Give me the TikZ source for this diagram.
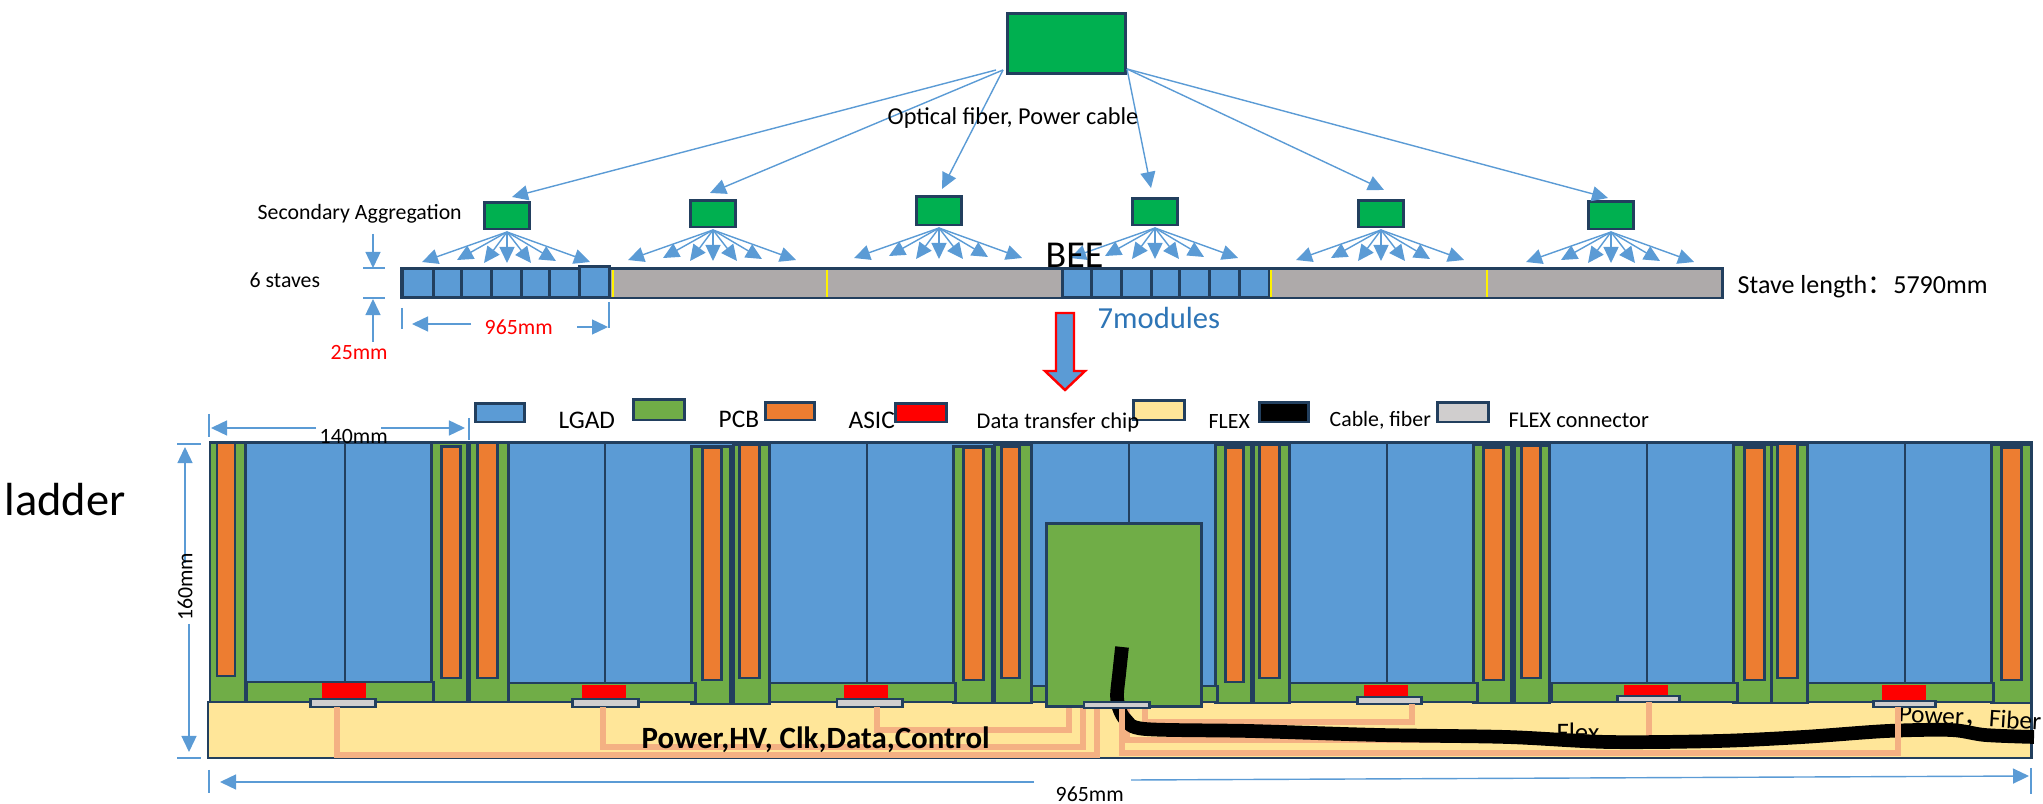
\documentclass[tikz,border=0pt]{standalone}
\usepackage{fontspec}
\setmainfont{Carlito}
\newfontfamily\cjk{Noto Sans CJK SC}
\usetikzlibrary{arrows.meta}
\pgfdeclarelayer{dessus}
\pgfsetlayers{main,dessus}
\definecolor{bleu}{HTML}{5B9BD5}
\definecolor{bleutexte}{HTML}{2E75B6}
\definecolor{marine}{HTML}{223F5E}
\definecolor{vert}{HTML}{00B050}
\definecolor{vertpcb}{HTML}{70AD47}
\definecolor{orangepcb}{HTML}{ED7D31}
\definecolor{jaune}{HTML}{FFE699}
\definecolor{gris}{HTML}{AEAAAA}
\definecolor{grisclair}{HTML}{D0CECE}
\definecolor{saumon}{HTML}{F4B183}
\tikzset{
  x=0.01cm,y=-0.01cm,
  boite/.style={draw=marine,line width=0.85pt,inner sep=0pt,outer sep=0pt},
  agreg/.style={boite,fill=vert},
  cellule/.style={draw=marine,line width=0.85pt,fill=bleu},
  lgad/.style={boite,fill=bleu},
  pcb/.style={boite,fill=vertpcb},
  puce/.style={boite,fill=orangepcb},
  asic/.style={boite,fill=red},
  flex/.style={boite,fill=jaune},
  cable/.style={boite,fill=black},
  prise/.style={boite,fill=grisclair},
  fibre/.style={-{Triangle[length=0.16cm,width=0.15cm]},color=bleu,line width=0.4pt},
  cote/.style={color=bleu,line width=0.5pt},
  piste/.style={color=saumon,line width=1.5pt},
  texte/.style={font=\fontsize{6.2}{7}\selectfont,inner sep=0pt},
}
\begin{document}
\begin{tikzpicture}
  \useasboundingbox (0,0) rectangle (2043,804);
  % upper part
  \node[agreg,minimum width=1.17cm,minimum height=0.6cm] (racine) at (1066.5,43.5) {};
  \foreach \i/\x/\y/\h in {1/507/216/0.26,2/713/214/0.26,3/939/211/0.28,4/1155/212/0.26,5/1381/214/0.26,6/1611/215.5/0.27}
    \node[agreg,minimum width=0.45cm,minimum height=\h cm] (sec\i) at (\x,\y) {};
  \coordinate (depart1) at (996,70);
  \coordinate (depart2) at (1003,70);
  \coordinate (depart3) at (1127,69);
  \foreach \i/\d/\dx/\dy in {1/1/0.05/0.06,2/2/-0.03/0.08,3/2/0.03/0.08,4/3/-0.04/0.11,5/3/0.03/0.11,6/3/-0.03/0.04}
    \draw[fibre] (depart\d) -- ([xshift=\dx cm,yshift=\dy cm]sec\i.north);
  \foreach \i in {1,...,6}
    \foreach \dx/\dy in {-85/30,-50/28,-23/31,0/31,24/31,49/29,83/30}
      \draw[fibre] ([yshift=-0.03cm]sec\i.south) -- ++(\dx,\dy);
  \node[texte,anchor=west,font=\fontsize{6.9}{8}\selectfont] (optique) at (887,118) {Optical fiber, Power cable};
  \node[texte,anchor=west] (secondaire) at (257,214) {Secondary Aggregation};
  \node[texte,anchor=west] (staves) at (249,280) {6 staves};
  \node[texte,anchor=west,text=red] (rouge25) at (330,353) {25mm};
  \node[texte,anchor=west,text=red] (rouge965) at (484,327) {965mm};
  \node[texte,anchor=west,font=\fontsize{7.4}{8}\selectfont] (longueur) at (1737,287) {Stave length{\cjk ：}5790mm};
  % stave
  \node[boite,fill=gris,minimum width=13.2cm,minimum height=0.29cm] (barre) at (1062,283.5) {};
  \foreach \a/\b in {402/433,433/461,461/491,491/521,521/549,549/579,1062/1091,1091/1121,1121/1151,1151/1179,1179/1209,1209/1239,1239/1269}
    \draw[cellule] (\a,269) rectangle (\b,298);
  \draw[cellule] (579,267) rectangle (609,298);
  \foreach \x in {613,827,1271,1487}
    \draw[yellow,line width=0.5pt] (\x,270) -- (\x,297);
  \node[texte,anchor=base west,font=\fontsize{10.8}{12}\selectfont] (bee) at (1045,268) {BEE};
  \node[texte,anchor=west,text=bleutexte,font=\fontsize{8.7}{10}\selectfont] (modules) at (1097,318) {7modules};
  \draw[red,fill=bleu,line width=0.7pt] (1056,313) -- (1074,313) -- (1074,371) -- (1085,371) -- (1065,390) -- (1045,371) -- (1056,371) -- cycle;
  % dimensions of the stave
  \coordinate (h1) at (363,268);
  \coordinate (h2) at (385,268);
  \coordinate (h3) at (363,298);
  \coordinate (h4) at (385,298);
  \coordinate (v1) at (373,234);
  \coordinate (v2) at (373,268);
  \coordinate (v3) at (373,342);
  \coordinate (v4) at (373,299);
  \coordinate (l1) at (402,308);
  \coordinate (l2) at (402,329);
  \coordinate (l3) at (609,302);
  \coordinate (l4) at (609,328);
  \coordinate (f1) at (471,324);
  \coordinate (f2) at (412,324);
  \coordinate (f3) at (577,327);
  \coordinate (f4) at (608,327);
  \foreach \a/\b in {h1/h2,h3/h4,l1/l2,l3/l4}
    \draw[cote] (\a) -- (\b);
  \foreach \a/\b in {v1/v2,v3/v4,f1/f2,f3/f4}
    \draw[fibre] (\a) -- (\b);
  % legend
  \foreach \n/\s/\x/\y/\w/\h in {l/lgad/500/413/0.49/0.18,p/pcb/659/410/0.51/0.2,o/puce/790/411.5/0.49/0.17,a/asic/921/413/0.51/0.18,f/flex/1159/410.5/0.51/0.19,c/cable/1284/412.5/0.49/0.19,g/prise/1463/412.5/0.51/0.19}
    \node[\s,minimum width=\w cm,minimum height=\h cm] (leg\n) at (\x,\y) {};
  \node[texte,anchor=west,font=\fontsize{7.2}{8}\selectfont] (tlgad) at (558,420) {LGAD};
  \node[texte,anchor=west,font=\fontsize{7.2}{8}\selectfont] (tpcb) at (718,419) {PCB};
  \node[texte,anchor=west,font=\fontsize{7.2}{8}\selectfont] (tasic) at (848,420) {ASIC};
  \node[texte,anchor=west,font=\fontsize{6.4}{7}\selectfont] (tdata) at (976,423) {Data transfer chip};
  \node[texte,anchor=west] (tflex) at (1208,422) {FLEX};
  \node[texte,anchor=west] (tcable) at (1329,420) {Cable, fiber};
  \node[texte,anchor=west,font=\fontsize{6.4}{7}\selectfont] (tprise) at (1508,420) {FLEX connector};
  \node[anchor=west,inner sep=0pt,font=\fontsize{13.2}{15}\selectfont] (ladder) at (4,500) {ladder};
  % ladder
  \draw[lgad] (210,443) rectangle (2031,702);
  \draw[flex] (208,702) rectangle (2031,758);
  \node[texte,anchor=center,font=\fontsize{7.6}{9}\selectfont] (tflexb) at (1578,732) {Flex};
  \node[texte,anchor=west,rotate=-3.5,font=\fontsize{7.2}{8}\selectfont] (tpower) at (1898,714) {Power{\cjk ，}Fiber};
  \foreach \x in {345,605,867,1129,1387,1647,1905}
    \draw[marine,line width=0.5pt] (\x,443) -- (\x,690);
  % pcb columns with their orange chips
  \foreach \a/\b/\t/\s/\c/\d/\e/\f in {
    210/245.5/443/702/217/235/443/676,
    431/467.5/443/702/441/460/447/678,
    469/508/443/702/477/497/443/678,
    691/730/447/704/702/721/448/680,
    733/769/445/704/739/759.5/445/678,
    953/992/447/703/963/983/448/680,
    994/1031/445/703/1001/1019/447/678,
    1215/1251/445/703/1225/1243/448/682,
    1253/1289/445/703/1259.5/1279.5/445/678,
    1473/1511/445/703/1483/1503/448/680,
    1514.5/1549/446/703/1521/1540/446/678,
    1733/1771/445/703/1744.5/1764/448/680,
    1771/1807/445/703/1777.5/1797/444/678,
    1991/2031/445/703/2001/2021.5/448/680}{
    \draw[pcb] (\a,\t) rectangle (\b,\s);
    \draw[puce] (\c,\e) rectangle (\d,\f);
  }
  % bottom strips and asics
  \foreach \a/\b/\t in {247/433/682,508/695/683,769/955/683,1031/1217/686,1289/1477/683,1551/1737/683,1807/1993/683}
    \draw[pcb] (\a,\t) rectangle (\b,702);
  \foreach \a/\b/\t/\s in {322/366/683/699,581.5/626/685/699,844/888/685/699,1364/1408/685/697,1624/1668/685/696,1882/1926/685/701}
    \fill[red] (\a,\t) rectangle (\b,\s);
  \node[pcb,minimum width=1.54cm,minimum height=1.82cm] (beepcb) at (1124,615) {};
  % connectors
  \foreach \n/\x/\y/\w/\h in {1/343/703/0.65/0.08,2/605.5/703/0.65/0.08,3/869.5/703/0.65/0.08,5/1389/700.5/0.64/0.07,6/1648/699/0.62/0.06,7/1904/704/0.62/0.06}
    \node[prise,minimum width=\w cm,minimum height=\h cm] (conn\n) at (\x,\y) {};
  \begin{pgfonlayer}{dessus}
    \node[prise,minimum width=0.65cm,minimum height=0.06cm] (connB) at (1116.5,705) {};
  \end{pgfonlayer}
  % traces
  \draw[piste] ([xshift=-0.06cm]conn1.south) -- ++(0,48) -| ([xshift=-0.195cm]connB.south);
  \draw[piste] ([xshift=-0.025cm]conn2.south) -- ++(0,40) -| ([xshift=-0.335cm]connB.south);
  \draw[piste] ([xshift=0.075cm]conn3.south) -- ++(0,23) -| ([xshift=-0.475cm]connB.south);
  \draw[piste] ([xshift=0.285cm]connB.south) -- ++(0,14) -| ([xshift=0.23cm]conn5.south);
  \draw[piste] ([xshift=0.105cm]connB.south) -- ++(0,32) -| ([xshift=0.01cm]conn6.south);
  % black cable
  \draw[black,line width=3.9pt,line join=round] plot[smooth,tension=0.5] coordinates {(1122,647) (1119,675) (1117,695) (1119,708) (1126,720) (1145,729) (1250,731) (1380,735) (1507,737) (1608,742) (1718,741) (1803,737) (1887,731) (1951,730) (1985,735) (2034,737)};
  \draw[piste] ([xshift=0.055cm]connB.south) -- ++(0,45) -| ([xshift=-0.06cm]conn7.south);
  \node[texte,anchor=west,font=\bfseries\fontsize{8.8}{10}\selectfont] (bus) at (641,740) {Power,HV, Clk,Data,Control};
  % dimensions of the ladder
  \coordinate (a1) at (209,414);
  \coordinate (a2) at (209,437);
  \coordinate (a3) at (469,418);
  \coordinate (a4) at (469,440);
  \coordinate (a5) at (316,428);
  \coordinate (a6) at (211,428);
  \coordinate (a7) at (381,428);
  \coordinate (a8) at (465,428);
  \coordinate (b1) at (177,444);
  \coordinate (b2) at (201,444);
  \coordinate (b3) at (177,758);
  \coordinate (b4) at (201,758);
  \coordinate (b5) at (185,563);
  \coordinate (b6) at (185,447);
  \coordinate (b7) at (189,624);
  \coordinate (b8) at (189,752);
  \coordinate (c1) at (209,770);
  \coordinate (c2) at (209,793);
  \coordinate (c3) at (2031,768);
  \coordinate (c4) at (2031,794);
  \coordinate (c5) at (1034,782);
  \coordinate (c6) at (220,782);
  \coordinate (c7) at (1131,780);
  \coordinate (c8) at (2029,776);
  \foreach \a/\b in {a1/a2,a3/a4,b1/b2,b3/b4,c1/c2,c3/c4}
    \draw[cote] (\a) -- (\b);
  \foreach \a/\b in {a5/a6,a7/a8,b5/b6,b7/b8,c5/c6,c7/c8}
    \draw[fibre] (\a) -- (\b);
  \node[texte,anchor=west] (t140) at (319,437) {140mm};
  \node[texte,rotate=90] (t160) at (185,587) {160mm};
  \node[texte,anchor=west] (t965) at (1055,794) {965mm};
\end{tikzpicture}
\end{document}
